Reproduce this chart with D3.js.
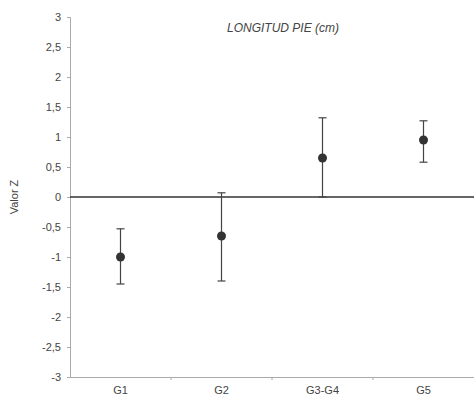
<!DOCTYPE html>
<html>
<head>
<meta charset="utf-8">
<script src="https://cdn.jsdelivr.net/npm/d3@7"></script>
<style>
  body { margin: 0; background: #fff; }
  text { font-family: "Liberation Sans", Arial, sans-serif; }
</style>
</head>
<body>
<div id="chart"></div>
<script>
// data
const groups = ["G1", "G2", "G3-G4", "G5"];
const means = [-1.0, -0.65, 0.65, 0.95];
const upper = [-0.53, 0.07, 1.32, 1.27];
const lower = [-1.45, -1.4, 0.0, 0.58];
const yTicks = [3, 2.5, 2, 1.5, 1, 0.5, 0, -0.5, -1, -1.5, -2, -2.5, -3];

const width = 474, height = 404;
const margin = { top: 17, right: 0, bottom: 27, left: 70 };

const svg = d3.select("#chart").append("svg")
    .attr("width", width).attr("height", height);

const x = d3.scaleBand().domain(groups)
    .range([margin.left, width - margin.right]).padding(0);
const y = d3.scaleLinear().domain([-3, 3])
    .range([height - margin.bottom, margin.top]);

const fmt = d => String(d).replace(".", ",");

// y axis
const yAxis = svg.append("g")
    .attr("transform", `translate(${margin.left},0)`)
    .call(d3.axisLeft(y).tickValues(yTicks).tickFormat(fmt).tickSize(3).tickPadding(6));
yAxis.select(".domain").attr("stroke", "#aaa");
yAxis.selectAll(".tick line").attr("stroke", "#aaa");
yAxis.selectAll("text").attr("fill", "#444").style("font-size", "11px");

// x axis at the bottom
const xAxis = svg.append("g")
    .attr("transform", `translate(0,${y(-3)})`)
    .call(d3.axisBottom(x).tickSize(0).tickPadding(9));
xAxis.select(".domain").attr("stroke", "#aaa");
xAxis.selectAll("text").attr("fill", "#444").style("font-size", "11px");
// small ticks between categories
xAxis.selectAll(".sep").data(groups.slice(1)).join("line")
    .attr("class", "sep")
    .attr("x1", d => x(d)).attr("x2", d => x(d))
    .attr("y1", 0).attr("y2", 3)
    .attr("stroke", "#aaa");

// zero line
svg.append("line")
    .attr("x1", margin.left).attr("x2", width)
    .attr("y1", y(0)).attr("y2", y(0))
    .attr("stroke", "#333").attr("stroke-width", 1.5);

const cx = d => x(d) + x.bandwidth() / 2;

// error bars
groups.forEach((g, i) => {
    const xc = cx(g);
    svg.append("line")
        .attr("x1", xc).attr("x2", xc)
        .attr("y1", y(upper[i])).attr("y2", y(lower[i]))
        .attr("stroke", "#444").attr("stroke-width", 1.2);
    [upper[i], lower[i]].forEach(v => {
        svg.append("line")
            .attr("x1", xc - 4).attr("x2", xc + 4)
            .attr("y1", y(v)).attr("y2", y(v))
            .attr("stroke", "#444").attr("stroke-width", 1.2);
    });
    svg.append("circle")
        .attr("cx", xc).attr("cy", y(means[i]))
        .attr("r", 4.5)
        .attr("fill", "#333");
});

// title
svg.append("text")
    .attr("x", 283).attr("y", 32)
    .attr("text-anchor", "middle")
    .attr("fill", "#444")
    .style("font-size", "12px")
    .style("font-style", "italic")
    .text("LONGITUD PIE (cm)");

// y label
svg.append("text")
    .attr("transform", `translate(18,${y(0)}) rotate(-90)`)
    .attr("text-anchor", "middle")
    .attr("fill", "#444")
    .style("font-size", "11px")
    .text("Valor Z");
</script>
</body>
</html>
